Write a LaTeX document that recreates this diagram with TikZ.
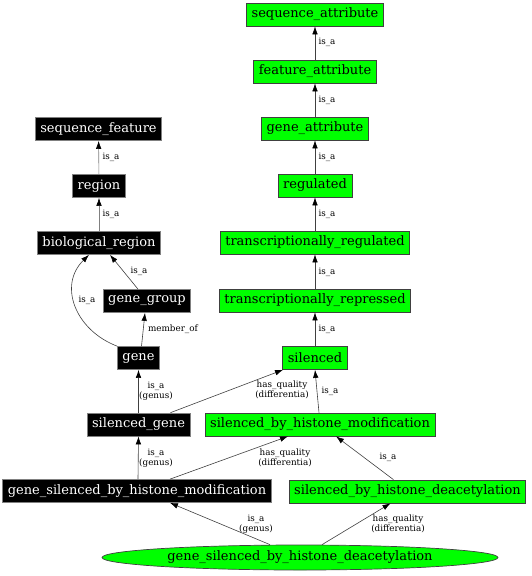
\documentclass[tikz,border=0pt]{standalone}
\usepackage{fontspec}
\setmainfont{DejaVu Serif}
\usetikzlibrary{shapes.geometric,arrows.meta}
\definecolor{gvgreen}{HTML}{00FF00}
\tikzset{
  base/.style={rectangle, minimum height=23pt, inner xsep=5pt, inner ysep=0pt, font=\fontsize{13}{14}\selectfont, line width=0.7pt},
  blk/.style={base, fill=black, draw=gray, text=white},
  grn/.style={base, fill=gvgreen, draw=black!75, text=black},
  lbl/.style={font=\fontsize{8.8}{9.5}\selectfont, inner sep=0pt, align=center},
  edge/.style={draw=black!75, line width=0.6pt, -{Latex[length=8pt,width=5.5pt,fill=black,color=black]}},
}
\begin{document}
\begin{tikzpicture}[x=1pt,y=-1pt]
\useasboundingbox (0,0) rectangle (531,576);
% green column
\node[grn] (sa) at (315,14.5) {sequence\_attribute};
\node[grn] (fa) at (315,71.5) {feature\_attribute};
\node[grn] (ga) at (315,128.5) {gene\_attribute};
\node[grn] (reg) at (315,185.5) {regulated};
\node[grn] (tr) at (315,242.5) {transcriptionally\_regulated};
\node[grn] (trep) at (315,300.5) {transcriptionally\_repressed};
\node[grn] (sil) at (315,358) {silenced};
\node[grn] (sbhm) at (320,424.5) {silenced\_by\_histone\_modification};
\node[grn] (sbhd) at (407.5,491.5) {silenced\_by\_histone\_deacetylation};
% black column
\node[blk] (sf) at (98.5,129) {sequence\_feature};
\node[blk] (region) at (99,186) {region};
\node[blk] (br) at (99,243) {biological\_region};
\node[blk] (gg) at (147,301) {gene\_group};
\node[blk] (gene) at (138.5,358) {gene};
\node[blk] (sg) at (138.5,424.5) {silenced\_gene};
\node[blk] (gshm) at (137,491) {gene\_silenced\_by\_histone\_modification};
% ellipse
\node[ellipse, fill=gvgreen, draw=black!75, line width=0.7pt, minimum width=396pt, minimum height=25pt, inner sep=0pt, font=\fontsize{13}{14}\selectfont] (ell) at (300,557.5) {gene\_silenced\_by\_histone\_deacetylation};
% edges
\draw[edge] (fa) -- (sa);
\draw[edge] (ga) -- (fa);
\draw[edge] (reg) -- (ga);
\draw[edge] (tr) -- (reg);
\draw[edge] (trep) -- (tr);
\draw[edge] (sil) -- (trep);
\draw[edge] ([xshift=-1pt]sbhm.north) -- ([xshift=0pt]sil.south);
\draw[edge] ([xshift=-14pt]sbhd.north) -- ([xshift=16pt]sbhm.south);
\draw[edge, draw=gray] (region) -- (sf);
\draw[edge, draw=gray] (br) -- (region);
\draw[edge] ([xshift=-9pt]gg.north) -- ([xshift=11pt]br.south);
\draw[edge] (gene.north west) .. controls (75,330) and (58,285) .. ([xshift=-10pt]br.south);
\draw[edge] ([xshift=3pt]gene.north) -- ([xshift=-2pt]gg.south);
\draw[edge] (sg) -- (gene);
\draw[edge] ([xshift=32pt]sg.north) -- ([xshift=-32pt]sil.south);
\draw[edge] ([xshift=1pt]gshm.north) -- (sg.south);
\draw[edge] ([xshift=33pt]gshm.north) -- ([xshift=-32pt]sbhm.south);
\draw[edge] ([xshift=-30pt]ell.north) -- ([xshift=33pt]gshm.south);
\draw[edge] ([xshift=22pt]ell.north) -- ([xshift=-17pt]sbhd.south);
% labels
\node[lbl] (l1) at (327,42) {is\_a};
\node[lbl] (l2) at (327,100) {is\_a};
\node[lbl] (l3) at (327,157) {is\_a};
\node[lbl] (l4) at (327,214) {is\_a};
\node[lbl] (l5) at (327,272) {is\_a};
\node[lbl] (l6) at (327,329) {is\_a};
\node[lbl] (l7) at (111,157) {is\_a};
\node[lbl] (l8) at (111,214) {is\_a};
\node[lbl] (l9) at (139,271) {is\_a};
\node[lbl] (l10) at (87,300) {is\_a};
\node[lbl] (l11) at (173,329) {member\_of};
\node[lbl] (l12) at (156,391) {is\_a\\(genus)};
\node[lbl] (l13) at (156,458) {is\_a\\(genus)};
\node[lbl] (l14) at (282,390) {has\_quality\\(differentia)};
\node[lbl] (l15) at (330,391) {is\_a};
\node[lbl] (l16) at (285,458) {has\_quality\\(differentia)};
\node[lbl] (l17) at (388,457) {is\_a};
\node[lbl] (l18) at (256,524) {is\_a\\(genus)};
\node[lbl] (l19) at (398,524) {has\_quality\\(differentia)};
\end{tikzpicture}
\end{document}
